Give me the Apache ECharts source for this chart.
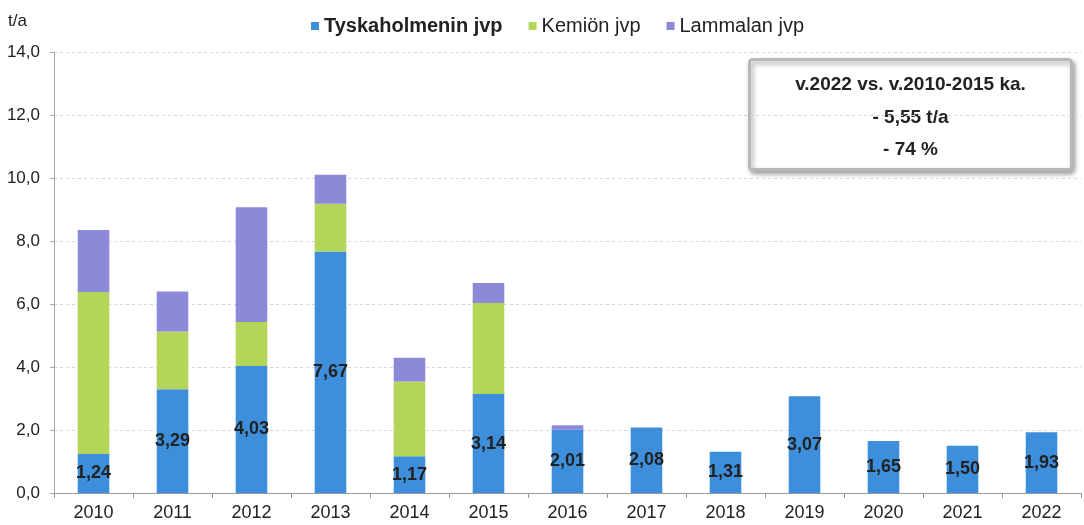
<!DOCTYPE html>
<html>
<head>
<meta charset="utf-8">
<script src="https://cdn.jsdelivr.net/npm/echarts@6/dist/echarts.min.js"></script>
<style>
  html, body { margin: 0; padding: 0; background: #fff; }
  #chart { width: 1084px; height: 525px; }
</style>
</head>
<body>
<div id="chart"></div>
<script>
// vuodet ja kuormat (t/a)
const years = ['2010', '2011', '2012', '2013', '2014', '2015', '2016', '2017', '2018', '2019', '2020', '2021', '2022'];
const tyskaholmen = [1.24, 3.29, 4.03, 7.67, 1.17, 3.14, 2.01, 2.08, 1.31, 3.07, 1.65, 1.50, 1.93];
const kemio = [5.14, 1.84, 1.40, 1.51, 2.37, 2.89, 0, 0, 0, 0, 0, 0, 0];
const lammala = [1.97, 1.27, 3.64, 0.92, 0.75, 0.64, 0.14, 0, 0, 0, 0, 0, 0];
const seriesNames = ['Tyskaholmenin jvp', 'Kemiön jvp', 'Lammalan jvp'];
const boxLines = ['v.2022 vs. v.2010-2015 ka.', '- 5,55 t/a', '- 74 %'];

const font = '"Liberation Sans", Arial, sans-serif';
const comma = v => v.toFixed(2).replace('.', ',');

var myChart = echarts.init(document.getElementById('chart'));

myChart.setOption({
    animation: false,
    color: ['#3d8fdc', '#b3d65a', '#8c89d8'],
    textStyle: { fontFamily: font },
    legend: {
        top: 11,
        left: 306,
        itemWidth: 8,
        itemHeight: 8,
        itemGap: 26,
        icon: 'rect',
        textStyle: { fontSize: 20, color: '#222', fontFamily: font },
        data: [
            { name: seriesNames[0], textStyle: { fontWeight: 'bold' } },
            { name: seriesNames[1] },
            { name: seriesNames[2] }
        ]
    },
    grid: {
        left: 54,
        right: 3,
        top: 52,
        bottom: 32
    },
    xAxis: {
        type: 'category',
        data: years,
        axisLine: { lineStyle: { color: '#999' } },
        axisTick: { show: true, length: 5, lineStyle: { color: '#999' } },
        axisLabel: { fontSize: 18, color: '#222', margin: 11 }
    },
    yAxis: {
        type: 'value',
        min: 0,
        max: 14,
        interval: 2,
        name: 't/a',
        nameLocation: 'end',
        nameGap: 22,
        nameTextStyle: { fontSize: 17, color: '#222', align: 'left', padding: [0, 0, 0, -46] },
        axisLine: { show: true, lineStyle: { color: '#aaa' } },
        axisTick: { show: true, length: 4, lineStyle: { color: '#aaa' } },
        axisLabel: {
            fontSize: 17,
            color: '#222',
            margin: 14,
            formatter: v => v.toFixed(1).replace('.', ',')
        },
        splitLine: { lineStyle: { color: '#d6d6d6', type: [3, 3] } }
    },
    graphic: [
        {
            type: 'group',
            left: 748,
            top: 58,
            children: [
                {
                    type: 'rect',
                    shape: { x: 0, y: 0, width: 322, height: 110, r: 3 },
                    style: {
                        fill: '#fff',
                        stroke: '#b8b8b8',
                        lineWidth: 3,
                        shadowBlur: 5,
                        shadowOffsetX: 2,
                        shadowOffsetY: 3,
                        shadowColor: 'rgba(0,0,0,0.35)'
                    }
                },
                { type: 'text', x: 161, y: 25, style: { text: boxLines[0], font: 'bold 19px ' + font, fill: '#222', align: 'center', verticalAlign: 'middle' } },
                { type: 'text', x: 161, y: 58, style: { text: boxLines[1], font: 'bold 19px ' + font, fill: '#222', align: 'center', verticalAlign: 'middle' } },
                { type: 'text', x: 161, y: 90, style: { text: boxLines[2], font: 'bold 19px ' + font, fill: '#222', align: 'center', verticalAlign: 'middle' } }
            ]
        }
    ],
    series: [
        {
            name: seriesNames[0],
            type: 'bar',
            stack: 'kuorma',
            barWidth: '40%',
            data: tyskaholmen,
            label: {
                show: true,
                position: 'inside',
                fontSize: 18,
                fontWeight: 'bold',
                color: '#222',
                formatter: p => comma(p.value)
            }
        },
        {
            name: seriesNames[1],
            type: 'bar',
            stack: 'kuorma',
            barWidth: '40%',
            data: kemio
        },
        {
            name: seriesNames[2],
            type: 'bar',
            stack: 'kuorma',
            barWidth: '40%',
            data: lammala
        }
    ]
});
</script>
</body>
</html>
